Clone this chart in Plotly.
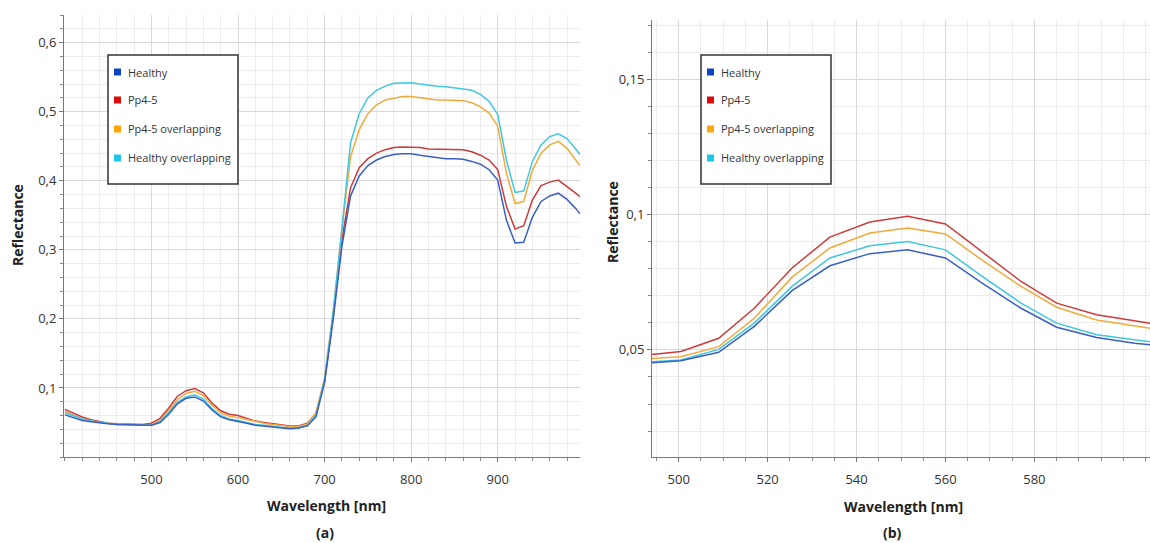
import plotly.graph_objects as go

# ---------------- data: panel (a) full spectrum ----------------
wl_a = [400, 410, 420, 430, 440, 450, 460, 470, 480, 490,
        500, 510, 520, 530, 540, 550, 560, 570, 580, 590,
        600, 610, 620, 630, 640, 650, 660, 670, 680, 690,
        700, 710, 720, 730, 740, 750, 760, 770, 780, 790,
        800, 810, 820, 830, 840, 850, 860, 870, 880, 890,
        900, 910, 920, 930, 940, 950, 960, 970, 980, 990, 995]

healthy_a = [0.061, 0.057, 0.053, 0.051, 0.049, 0.048, 0.047, 0.047, 0.046, 0.046,
             0.046, 0.050, 0.062, 0.077, 0.085, 0.087, 0.081, 0.068, 0.058, 0.054,
             0.052, 0.049, 0.046, 0.045, 0.043, 0.042, 0.041, 0.042, 0.045, 0.058,
             0.108, 0.200, 0.305, 0.378, 0.407, 0.422, 0.430, 0.435, 0.438, 0.439,
             0.439, 0.437, 0.435, 0.434, 0.432, 0.432, 0.431, 0.428, 0.424, 0.416,
             0.401, 0.343, 0.310, 0.311, 0.347, 0.370, 0.378, 0.382, 0.373, 0.360, 0.352]

pp45_a = [0.069, 0.063, 0.058, 0.054, 0.051, 0.049, 0.048, 0.048, 0.047, 0.047,
          0.049, 0.056, 0.071, 0.088, 0.096, 0.099, 0.093, 0.078, 0.067, 0.062,
          0.060, 0.056, 0.052, 0.050, 0.048, 0.046, 0.045, 0.045, 0.049, 0.063,
          0.110, 0.205, 0.315, 0.390, 0.419, 0.432, 0.440, 0.445, 0.448, 0.449,
          0.449, 0.448, 0.446, 0.446, 0.445, 0.445, 0.445, 0.442, 0.437, 0.430,
          0.416, 0.363, 0.330, 0.335, 0.372, 0.393, 0.398, 0.401, 0.392, 0.382, 0.377]

pp45_ov_a = [0.066, 0.060, 0.055, 0.052, 0.050, 0.048, 0.047, 0.047, 0.046, 0.046,
             0.047, 0.053, 0.067, 0.083, 0.092, 0.095, 0.089, 0.075, 0.064, 0.059,
             0.057, 0.054, 0.051, 0.049, 0.047, 0.045, 0.044, 0.044, 0.048, 0.064,
             0.114, 0.212, 0.330, 0.435, 0.474, 0.497, 0.510, 0.517, 0.520, 0.522,
             0.522, 0.520, 0.518, 0.517, 0.517, 0.517, 0.516, 0.513, 0.507, 0.498,
             0.479, 0.411, 0.367, 0.370, 0.415, 0.440, 0.452, 0.457, 0.447, 0.430, 0.422]

healthy_ov_a = [0.064, 0.059, 0.055, 0.052, 0.050, 0.048, 0.047, 0.047, 0.046, 0.046,
                0.046, 0.051, 0.064, 0.079, 0.087, 0.090, 0.084, 0.070, 0.060, 0.055,
                0.053, 0.050, 0.047, 0.046, 0.044, 0.043, 0.042, 0.042, 0.046, 0.060,
                0.112, 0.210, 0.330, 0.455, 0.497, 0.520, 0.531, 0.537, 0.541, 0.542,
                0.542, 0.540, 0.538, 0.537, 0.536, 0.535, 0.533, 0.531, 0.525, 0.515,
                0.496, 0.430, 0.383, 0.385, 0.428, 0.452, 0.464, 0.468, 0.461, 0.446, 0.438]

# ---------------- data: panel (b) green-peak zoom ----------------
wl_b = [492, 500.5, 509, 517, 525.5, 534, 543, 551.5, 560, 568, 577, 585, 594, 602.5, 611]

healthy_b = [0.0450, 0.0460, 0.0491, 0.0587, 0.0719, 0.0811, 0.0856, 0.0870,
             0.0840, 0.0750, 0.0654, 0.0584, 0.0546, 0.0525, 0.0510]
pp45_b = [0.0480, 0.0494, 0.0543, 0.0654, 0.0803, 0.0917, 0.0973, 0.0994,
          0.0966, 0.0865, 0.0753, 0.0673, 0.0630, 0.0608, 0.0586]
pp45_ov_b = [0.0466, 0.0475, 0.0512, 0.0617, 0.0769, 0.0877, 0.0932, 0.0951,
             0.0929, 0.0835, 0.0735, 0.0658, 0.0611, 0.0589, 0.0567]
healthy_ov_b = [0.0454, 0.0463, 0.0502, 0.0599, 0.0735, 0.0840, 0.0885, 0.0901,
                0.0870, 0.0775, 0.0673, 0.0599, 0.0556, 0.0536, 0.0519]

series_names = ["Healthy", "Pp4-5", "Pp4-5 overlapping", "Healthy overlapping"]
line_colors = ["#3a5fc2", "#cc3b3b", "#f2a93b", "#3fc6e2"]
legend_colors = ["#0b45c6", "#dd0a0a", "#ffa40a", "#1ec6ec"]

# tick labels
xa_ticks = [500, 600, 700, 800, 900]
xa_text = ["500", "600", "700", "800", "900"]
ya_ticks = [0.1, 0.2, 0.3, 0.4, 0.5, 0.6]
ya_text = ["0,1", "0,2", "0,3", "0,4", "0,5", "0,6"]
xb_ticks = [500, 520, 540, 560, 580]
xb_text = ["500", "520", "540", "560", "580"]
yb_ticks = [0.05, 0.1, 0.15]
yb_text = ["0,05", "0,1", "0,15"]

W, H = 1150, 543


def px_x(p):
    return p / W


def px_y(p):
    return 1 - p / H


fig = go.Figure()

data_a = [healthy_a, pp45_a, pp45_ov_a, healthy_ov_a]
data_b = [healthy_b, pp45_b, pp45_ov_b, healthy_ov_b]
draw_order = [1, 2, 3, 0]

for i in draw_order:
    fig.add_trace(go.Scatter(x=wl_a, y=data_a[i], mode="lines", name=series_names[i],
                             line=dict(color=line_colors[i], width=1.5),
                             showlegend=False, xaxis="x", yaxis="y",
                             hoverinfo="skip"))
    fig.add_trace(go.Scatter(x=wl_b, y=data_b[i], mode="lines", name=series_names[i],
                             line=dict(color=line_colors[i], width=1.5),
                             showlegend=False, xaxis="x2", yaxis="y2",
                             hoverinfo="skip"))

axis_common = dict(showline=True, linecolor="#777777", linewidth=1,
                   ticks="outside", ticklen=4, tickcolor="#777777",
                   showgrid=True, gridcolor="#d9d9d9", gridwidth=1,
                   zeroline=False, tickfont=dict(size=13, color="#333333"),
                   fixedrange=True)

fig.update_layout(
    width=W, height=H,
    margin=dict(l=0, r=0, t=0, b=0),
    paper_bgcolor="white", plot_bgcolor="white",
    showlegend=False,
    font=dict(family="Open Sans, DejaVu Sans, sans-serif", color="#333333"),
    xaxis=dict(domain=[px_x(64), px_x(580)], range=[399, 995], anchor="y",
               tickmode="array", tickvals=xa_ticks, ticktext=xa_text,
               ticklabelstandoff=6,
               minor=dict(tick0=0, dtick=20, ticks="outside", ticklen=3,
                          tickcolor="#888888", showgrid=True, gridcolor="#ececec"),
               **axis_common),
    yaxis=dict(domain=[px_y(457), px_y(15)], range=[0, 0.64], anchor="x",
               tickmode="array", tickvals=ya_ticks, ticktext=ya_text,
               minor=dict(tick0=0, dtick=0.02, ticks="outside", ticklen=3,
                          tickcolor="#888888", showgrid=True, gridcolor="#ececec"),
               **axis_common),
    xaxis2=dict(domain=[px_x(652), 1.0], range=[494, 606], anchor="y2",
                tickmode="array", tickvals=xb_ticks, ticktext=xb_text,
                ticklabelstandoff=6,
                minor=dict(tick0=0, dtick=5, ticks="outside", ticklen=3,
                           tickcolor="#888888", showgrid=True, gridcolor="#ececec"),
                **axis_common),
    yaxis2=dict(domain=[px_y(457), px_y(20)], range=[0.0104, 0.172], anchor="x2",
                tickmode="array", tickvals=yb_ticks, ticktext=yb_text,
                minor=dict(tick0=0, dtick=0.01, ticks="outside", ticklen=3,
                           tickcolor="#888888", showgrid=True, gridcolor="#ececec"),
                **axis_common),
)

# legend boxes with swatches and labels (one per panel)
legend_rows = [72, 100, 129, 158]
for box_x0, box_x1, sw_x, txt_x in [(108, 238, 117.5, 126), (701, 831, 710.5, 719)]:
    fig.add_shape(type="rect", xref="paper", yref="paper",
                  x0=px_x(box_x0), x1=px_x(box_x1), y0=px_y(184), y1=px_y(55),
                  line=dict(color="#333333", width=1.5), fillcolor="white",
                  layer="above")
    for i, name in enumerate(series_names):
        r = legend_rows[i]
        fig.add_shape(type="rect", xref="paper", yref="paper",
                      x0=px_x(sw_x - 3.5), x1=px_x(sw_x + 3.5),
                      y0=px_y(r + 3.5), y1=px_y(r - 3.5),
                      line=dict(width=0), fillcolor=legend_colors[i], layer="above")
        fig.add_annotation(xref="paper", yref="paper", showarrow=False,
                           x=px_x(txt_x), y=px_y(r), xanchor="left", yanchor="middle",
                           text=name, font=dict(size=11, color="#333333"))

title_font = dict(size=14, color="#222222", family="Open Sans, DejaVu Sans, sans-serif")
annots = [
    dict(text="<b>Reflectance</b>", x=px_x(18), y=px_y(225), textangle=-90),
    dict(text="<b>Reflectance</b>", x=px_x(612), y=px_y(222), textangle=-90),
    dict(text="<b>Wavelength [nm]</b>", x=px_x(326), y=px_y(505)),
    dict(text="<b>Wavelength [nm]</b>", x=px_x(903), y=px_y(506)),
    dict(text="<b>(a)</b>", x=px_x(325), y=px_y(532)),
    dict(text="<b>(b)</b>", x=px_x(892), y=px_y(532)),
]
for a in annots:
    fig.add_annotation(xref="paper", yref="paper", showarrow=False,
                       xanchor="center", yanchor="middle", font=title_font, **a)

fig.write_html("out.html", config={"displayModeBar": False},
               post_script="document.body.style.margin='0';document.body.style.overflow='hidden';")
